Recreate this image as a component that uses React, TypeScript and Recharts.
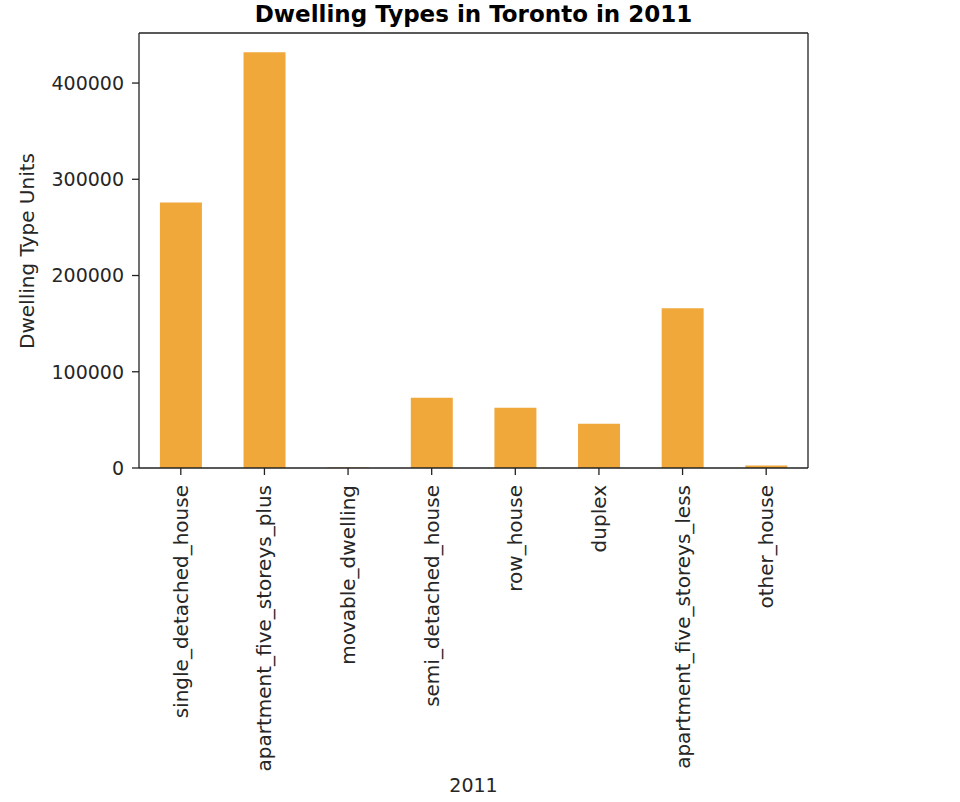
import React from 'react';
import { BarChart, Bar, XAxis, YAxis } from 'recharts';

const categories = [
  'single_detached_house',
  'apartment_five_storeys_plus',
  'movable_dwelling',
  'semi_detached_house',
  'row_house',
  'duplex',
  'apartment_five_storeys_less',
  'other_house',
];
const units2011 = [276000, 432000, 400, 73000, 62500, 46000, 166000, 2700];
const yTicks = [0, 100000, 200000, 300000, 400000];

const data = categories.map((c, i) => ({ name: c, value: units2011[i] }));

const FONT = '"DejaVu Sans", Verdana, sans-serif';
const TEXT = '#262626';
const LINE = '#222222';

const RotTick = (props: any) => {
  const { x, y, payload } = props;
  return (
    <text
      x={x}
      y={y}
      transform={`rotate(-90 ${x} ${y})`}
      textAnchor="end"
      dy="0.35em"
      fontSize={20}
      fill={TEXT}
      fontFamily={FONT}
    >
      {payload.value}
    </text>
  );
};

export default function App() {
  return (
    <div style={{ position: 'absolute', left: 0, top: 0, width: 960, height: 802, background: '#fff' }}>
      <BarChart
        width={960}
        height={802}
        data={data}
        margin={{ top: 32, right: 151, left: 0, bottom: 0 }}
        barCategoryGap="25%"
      >
        <XAxis
          dataKey="name"
          height={334}
          interval={0}
          tickSize={7}
          tickMargin={10}
          tick={<RotTick />}
          axisLine={{ stroke: LINE, strokeWidth: 1.3 }}
          tickLine={{ stroke: LINE, strokeWidth: 1.3 }}
        />
        <XAxis
          xAxisId="top"
          orientation="top"
          dataKey="name"
          height={1}
          tick={false}
          tickLine={false}
          axisLine={{ stroke: LINE, strokeWidth: 1.3 }}
        />
        <YAxis
          width={139}
          domain={[0, 452000]}
          ticks={yTicks}
          interval={0}
          tickSize={7}
          tickMargin={8}
          tick={{ fontSize: 19, fill: TEXT, fontFamily: FONT }}
          axisLine={{ stroke: LINE, strokeWidth: 1.3 }}
          tickLine={{ stroke: LINE, strokeWidth: 1.3 }}
        />
        <YAxis
          yAxisId="right"
          orientation="right"
          width={1}
          domain={[0, 452000]}
          tick={false}
          tickLine={false}
          axisLine={{ stroke: LINE, strokeWidth: 1.3 }}
        />
        <Bar dataKey="value" fill="#f0a83b" isAnimationActive={false} />
        <text x={473.5} y={22} textAnchor="middle" fontWeight="bold" fontSize={23} fill="#000" fontFamily={FONT}>
          Dwelling Types in Toronto in 2011
        </text>
        <text x={473.5} y={792} textAnchor="middle" fontSize={19} fill={TEXT} fontFamily={FONT}>
          2011
        </text>
        <text
          x={0}
          y={0}
          transform="translate(34,251) rotate(-90)"
          textAnchor="middle"
          fontSize={20}
          fill={TEXT}
          fontFamily={FONT}
        >
          Dwelling Type Units
        </text>
      </BarChart>
    </div>
  );
}
